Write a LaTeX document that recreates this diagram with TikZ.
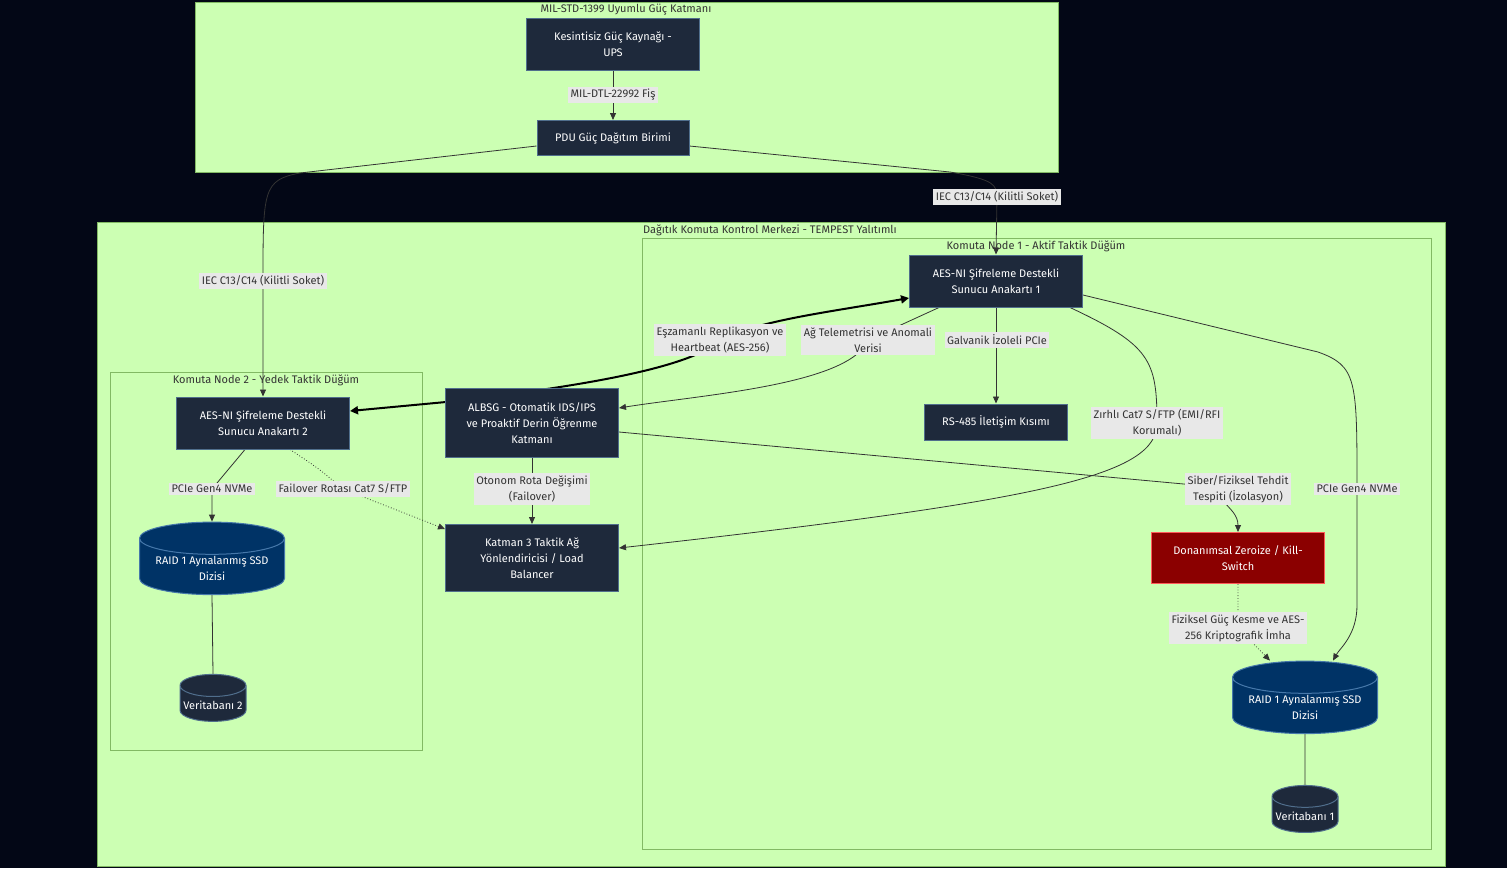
\documentclass[tikz,border=0pt]{standalone}
\usepackage{fontspec}
\setmainfont{Fira Sans}
\usetikzlibrary{positioning,shapes.geometric,arrows.meta}

\definecolor{bgdark}{RGB}{3,7,22}
\definecolor{zonefill}{RGB}{204,255,179}
\definecolor{zoneline}{RGB}{130,185,100}
\definecolor{boxfill}{RGB}{30,41,59}
\definecolor{boxline}{RGB}{80,110,140}
\definecolor{raidfill}{RGB}{0,51,102}
\definecolor{raidline}{RGB}{70,120,170}
\definecolor{killfill}{RGB}{139,0,0}
\definecolor{killline}{RGB}{255,90,90}
\definecolor{lblfill}{RGB}{232,232,232}
\definecolor{inktext}{RGB}{51,51,51}
\definecolor{edgeline}{RGB}{51,51,51}

\pgfdeclarelayer{zones}
\pgfdeclarelayer{edges}
\pgfsetlayers{zones,edges,main}

\begin{document}
\begin{tikzpicture}[x=1pt,y=-1pt,
    every node/.style={font=\fontsize{11}{16}\selectfont},
    zone/.style={fill=zonefill,draw=zoneline,line width=0.8pt},
    zonetitle/.style={text=inktext,inner sep=0pt},
    box/.style={draw=boxline,fill=boxfill,text=white,line width=1pt,align=center,
      minimum width=173pt,minimum height=52pt,inner sep=2pt},
    kill/.style={box,draw=killline,fill=killfill,minimum height=51pt},
    disk/.style={cylinder,shape border rotate=90,draw=raidline,fill=raidfill,text=white,
      line width=1pt,align=center,aspect=0.28,minimum width=145pt,minimum height=72pt,inner sep=1pt},
    dbdisk/.style={disk,draw=boxline,fill=boxfill,aspect=0.36,minimum width=66pt,minimum height=47pt},
    lbl/.style={fill=lblfill,text=inktext,align=center,inner sep=2.5pt},
    flow/.style={draw=edgeline,line width=0.8pt,-{Triangle[length=7pt,width=6pt]}},
    sync/.style={draw=black,line width=2pt,{Triangle[length=8pt,width=8pt]}-{Triangle[length=8pt,width=8pt]}},
    link/.style={draw=edgeline,line width=0.8pt}]

  % zones
  \begin{pgfonlayer}{zones}
    \fill[bgdark] (0,0) rectangle (1507,868);
    \draw[zone] (195,2) rectangle (1058,172);
    \draw[zone] (97,222) rectangle (1445,866);
    \draw[zone] (642,238) rectangle (1431,849);
    \draw[zone] (110,372) rectangle (422,750);
  \end{pgfonlayer}
  \node[zonetitle] (t_guc) at (626,10) {MIL-STD-1399 Uyumlu Güç Katmanı};
  \node[zonetitle] (t_merkez) at (770,230) {Dağıtık Komuta Kontrol Merkezi - TEMPEST Yalıtımlı};
  \node[zonetitle] (t_node1) at (1036,246) {Komuta Node 1 - Aktif Taktik Düğüm};
  \node[zonetitle] (t_node2) at (266,380) {Komuta Node 2 - Yedek Taktik Düğüm};

  % nodes
  \node[box] (ups) at (613,44) {Kesintisiz Güç Kaynağı -\\UPS};
  \node[box,minimum width=152pt,minimum height=35pt,on grid] (pdu) [below=94pt of ups] {PDU Güç Dağıtım Birimi};
  \node[box] (s1) at (996,281) {AES-NI Şifreleme Destekli\\Sunucu Anakartı 1};
  \node[box,minimum width=143pt,minimum height=36pt,on grid] (rs485) [below=141pt of s1] {RS-485 İletişim Kısımı};
  \node[box] (s2) at (263,423) {AES-NI Şifreleme Destekli\\Sunucu Anakartı 2};
  \node[box,minimum height=69pt,on grid] (albsg) [right=269pt of s2] {ALBSG - Otomatik IDS/IPS\\ve Proaktif Derin Öğrenme\\Katmanı};
  \node[box,minimum height=67pt,on grid] (router) [below=135pt of albsg] {Katman 3 Taktik Ağ\\Yönlendiricisi / Load\\Balancer};
  \node[kill] (zeroize) at (1238,558) {Donanımsal Zeroize / Kill-\\Switch};
  \node[disk] (raid2) at (212,568) {RAID 1 Aynalanmış SSD\\Dizisi};
  \node[dbdisk] (db2) at (213,705) {Veritabanı 2};
  \node[disk] (raid1) at (1305,707) {RAID 1 Aynalanmış SSD\\Dizisi};
  \node[dbdisk] (db1) at (1305,816) {Veritabanı 1};

  % edge labels
  \node[lbl] (l_fis) at (613,95) {MIL-DTL-22992 Fiş};
  \node[lbl] (l_iec2) at (263,281) {IEC C13/C14 (Kilitli Soket)};
  \node[lbl] (l_iec1) at (997,197) {IEC C13/C14 (Kilitli Soket)};
  \node[lbl] (l_galv) at (997,340) {Galvanik İzoleli PCIe};
  \node[lbl] (l_rep) at (720,340) {Eşzamanlı Replikasyon ve\\Heartbeat (AES-256)};
  \node[lbl] (l_tel) at (868,340) {Ağ Telemetrisi ve Anomali\\Verisi};
  \node[lbl] (l_zirh) at (1157,423) {Zırhlı Cat7 S/FTP (EMI/RFI\\Korumalı)};
  \node[lbl] (l_nvme1) at (1357,489) {PCIe Gen4 NVMe};
  \node[lbl] (l_tehdit) at (1238,489) {Siber/Fiziksel Tehdit\\Tespiti (İzolasyon)};
  \node[lbl] (l_oto) at (532,489) {Otonom Rota Değişimi\\(Failover)};
  \node[lbl] (l_nvme2) at (212,489) {PCIe Gen4 NVMe};
  \node[lbl] (l_fail) at (343,489) {Failover Rotası Cat7 S/FTP};
  \node[lbl] (l_imha) at (1238,628) {Fiziksel Güç Kesme ve AES-\\256 Kriptografik İmha};

  % connectors
  \begin{pgfonlayer}{edges}
    \draw[flow] (ups) -- (pdu);
    \draw[flow] ([yshift=-8pt]pdu.west) -- (300,173) .. controls (263,180) and (263,190) .. (l_iec2.center) -- (s2.north);
    \draw[flow] ([yshift=-8pt]pdu.east) -- (950,172) .. controls (996,180) and (996,185) .. (l_iec1.center) -- (s1.north);
    \draw[flow] (s1.south) -- (rs485.north);
    \draw[flow] ([yshift=-14pt]s1.east) -- (1318,352) .. controls (1357,366) and (1357,380) .. (l_nvme1.center)
      -- (1357,605) .. controls (1357,635) and (1340,648) .. ([xshift=28pt]raid1.north);
    \draw[flow] ([xshift=-13pt]s1.south east) .. controls (1150,345) and (1157,360) .. (l_zirh.center)
      .. controls (1157,475) and (1050,500) .. ([yshift=10pt]router.east);
    \draw[flow] ([xshift=30pt]s1.south west) -- (l_tel.center) .. controls (850,385) and (700,395) .. ([yshift=15pt]albsg.east);
    \draw[sync] ([yshift=12pt]s2.east) -- (446,402) .. controls (560,389) and (690,370) .. (l_rep.center)
      .. controls (760,320) and (830,312) .. ([yshift=-17pt]s1.west);
    \draw[flow] (albsg.south) -- (router.north);
    \draw[flow] ([yshift=-9pt]albsg.east) -- (l_tehdit.center) .. controls (1205,500) and (1238,505) .. (zeroize.north);
    \draw[flow] ([xshift=-18pt]s2.south) .. controls (228,470) .. (l_nvme2.center) .. controls (212,500) .. (raid2.north);
    \draw[flow,dotted] ([xshift=27pt]s2.south) .. controls (318,468) .. (l_fail.center) -- ([yshift=-5pt]router.north west);
    \draw[flow,dotted] (zeroize.south) -- (l_imha.center) -- ([xshift=-35pt]raid1.north);
    \draw[link] (raid2.south) -- (db2.north);
    \draw[link] (raid1.south) -- (db1.north);
  \end{pgfonlayer}
\end{tikzpicture}
\end{document}
